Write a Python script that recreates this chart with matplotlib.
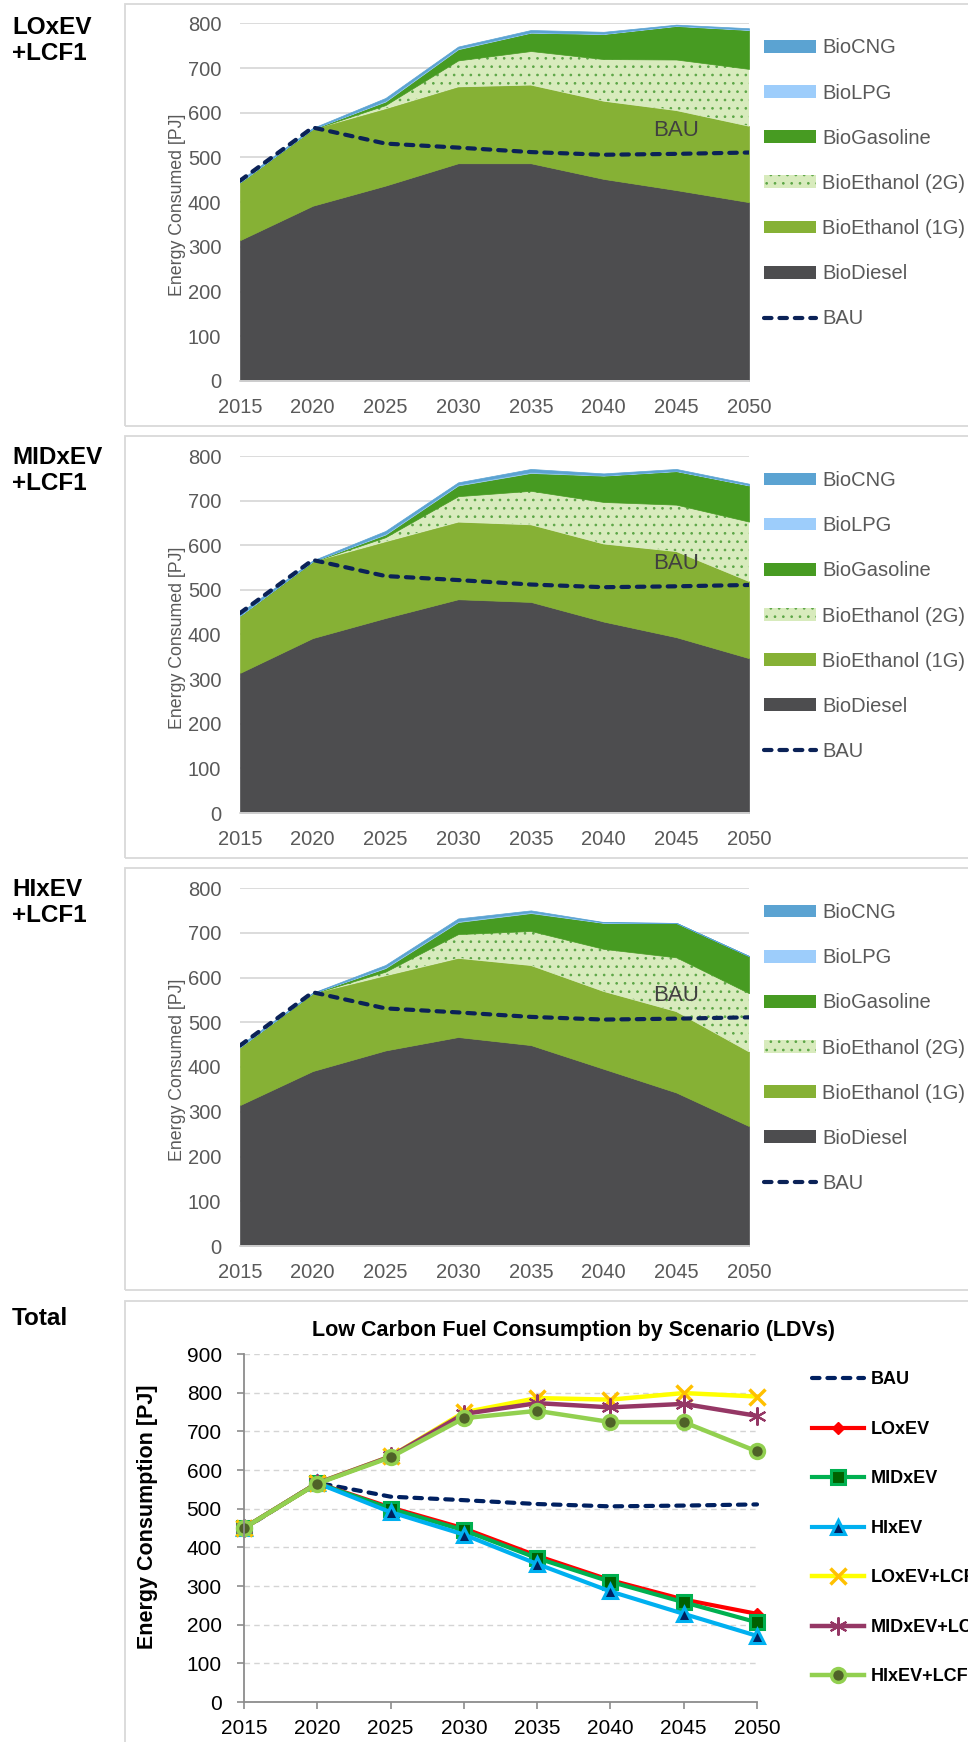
import matplotlib
matplotlib.use("Agg")
import matplotlib.pyplot as plt
from matplotlib.patches import Patch, Rectangle
from matplotlib.lines import Line2D

plt.rcParams['font.family'] = ['Liberation Sans', 'DejaVu Sans']
plt.rcParams['hatch.color'] = '#5ca646'
plt.rcParams['hatch.linewidth'] = 0.7

# ---- data (PJ) ----
years = [2015, 2020, 2025, 2030, 2035, 2040, 2045, 2050]
fuels = ["BioDiesel", "BioEthanol (1G)", "BioEthanol (2G)", "BioGasoline", "BioLPG", "BioCNG"]

lo_diesel = [315, 392, 437, 487, 487, 452, 427, 400]
lo_eth1g = [129, 171, 172, 171, 175, 174, 178, 170]
lo_eth2g = [0, 0, 8, 59, 76, 94, 114, 128]
lo_gasoline = [0, 1, 8, 25, 41, 56, 75, 87]
lo_lpg = [1, 0, 2, 2, 1, 1, 1, 1]
lo_cng = [4, 2, 6, 4, 5, 4, 2, 3]

mid_diesel = [314, 392, 437, 479, 473, 429, 394, 347]
mid_eth1g = [128, 171, 171, 173, 173, 174, 192, 172]
mid_eth2g = [0, 0, 10, 58, 76, 94, 105, 134]
mid_gasoline = [0, 1, 6, 24, 40, 59, 75, 81]
mid_lpg = [1, 0, 2, 2, 2, 1, 1, 1]
mid_cng = [6, 2, 6, 5, 7, 4, 4, 3]

hi_diesel = [315, 391, 437, 467, 449, 396, 343, 268]
hi_eth1g = [129, 173, 167, 176, 178, 173, 181, 166]
hi_eth2g = [0, 0, 9, 54, 77, 95, 121, 131]
hi_gasoline = [0, 1, 8, 27, 40, 58, 77, 83]
hi_lpg = [1, 0, 2, 2, 2, 1, 0, 0]
hi_cng = [4, 1, 5, 6, 4, 1, 0, 0]

bau = [448, 567, 531, 522, 512, 506, 508, 511]

scenario_names = ["LOxEV", "MIDxEV", "HIxEV", "LOxEV+LCF1", "MIDxEV+LCF1", "HIxEV+LCF1"]
tot_lo = [450, 566, 503, 449, 378, 315, 265, 228]
tot_mid = [450, 566, 500, 444, 372, 311, 258, 206]
tot_hi = [450, 566, 491, 433, 357, 286, 228, 171]
tot_lo_lcf = [450, 566, 635, 749, 786, 782, 799, 790]
tot_mid_lcf = [450, 566, 635, 745, 773, 762, 771, 740]
tot_hi_lcf = [450, 565, 633, 734, 753, 724, 724, 648]

panel_titles = ["LOxEV\n+LCF1", "MIDxEV\n+LCF1", "HIxEV\n+LCF1"]
panel_data = [
    [lo_diesel, lo_eth1g, lo_eth2g, lo_gasoline, lo_lpg, lo_cng],
    [mid_diesel, mid_eth1g, mid_eth2g, mid_gasoline, mid_lpg, mid_cng],
    [hi_diesel, hi_eth1g, hi_eth2g, hi_gasoline, hi_lpg, hi_cng],
]

fuel_colors = ['#4d4d4f', '#86b135', '#d8ebbd', '#479b22', '#9dcdfb', '#5ba3d2']
bau_color = '#0b2257'
grey_txt = '#595959'

W, H = 968, 1742
fig = plt.figure(figsize=(W / 100, H / 100), dpi=100)


def fx(px):
    return px / W


def fy(py):
    return 1 - py / H


def frame(top, bottom):
    fig.add_artist(Rectangle((fx(125), fy(bottom)), 1.0, (bottom - top) / H,
                             transform=fig.transFigure, fill=False,
                             edgecolor='#d9d9d9', linewidth=1.3))


# (frame top, frame bottom, axes top, axes bottom, label top)
panel_px = [(4, 426, 23.3, 381, 16), (436, 858, 456, 813, 446), (868, 1290, 888, 1246, 878)]

for (ftop, fbot, atop, abot, ltop), title, data in zip(panel_px, panel_titles, panel_data):
    frame(ftop, fbot)
    ax = fig.add_axes([fx(240), fy(abot), fx(749) - fx(240), (abot - atop) / H])
    polys = ax.stackplot(years, *data, colors=fuel_colors, linewidth=0)
    for p in polys:
        p.set_edgecolor('face')
        p.set_linewidth(0.5)
    polys[2].set_hatch('..')
    ax.plot(years, bau, color=bau_color, lw=3, ls=(0, (1.8, 1.9)),
            dash_capstyle='round', zorder=5)
    ax.text(2045, 560, "BAU", ha='center', va='center', fontsize=16, color='#404040', zorder=6)

    ax.set_xlim(2015, 2050)
    ax.set_ylim(0, 800)
    ax.set_xticks(years)
    ax.set_yticks(range(0, 801, 100))
    ax.grid(axis='y', color='#d9d9d9', lw=1.3)
    ax.set_axisbelow(True)
    for s in ['left', 'right', 'top']:
        ax.spines[s].set_visible(False)
    ax.spines['bottom'].set_color('#d9d9d9')
    ax.spines['bottom'].set_linewidth(1.3)
    ax.tick_params(axis='y', length=0, labelsize=14.5, labelcolor=grey_txt, pad=13.5)
    ax.tick_params(axis='x', length=0, labelsize=14.5, labelcolor=grey_txt, pad=12)

    fig.text(fx(177), fy((atop + abot) / 2 + 3), "Energy Consumed [PJ]", rotation=90,
             ha='center', va='center', fontsize=12.8, color=grey_txt)
    fig.text(fx(12), fy(ltop), title, ha='left', va='top', fontsize=17.5,
             fontweight='bold', linespacing=1.15)

    handles = [Patch(facecolor=fuel_colors[i], hatch='..' if i == 2 else None, linewidth=0)
               for i in range(5, -1, -1)]
    handles.append(Line2D([], [], color=bau_color, lw=3, ls=(0, (1.8, 1.9)), dash_capstyle='round'))
    labels = fuels[::-1] + ["BAU"]
    ax.legend(handles, labels, loc='upper left', bbox_to_anchor=(1.029, 0.958),
              frameon=False, fontsize=14.5, labelcolor=grey_txt, borderpad=0,
              borderaxespad=0, handlelength=2.6, handleheight=0.6,
              handletextpad=0.3, labelspacing=1.3)

# ---- total panel ----
frame(1301, 1800)
fig.text(fx(12), fy(1307), "Total", ha='left', va='top', fontsize=17.5, fontweight='bold')

ax4 = fig.add_axes([fx(244), fy(1702), fx(757) - fx(244), (1702 - 1354) / H])
series = [
    ("BAU", bau, dict(color='#002060', lw=3, ls=(0, (1.8, 1.9)), dash_capstyle='round')),
    (scenario_names[0], tot_lo, dict(color='#ff0000', lw=3, marker='D', ms=6,
                                     mfc='#ff0000', mec='#ff0000')),
    (scenario_names[1], tot_mid, dict(color='#00b050', lw=3, marker='s', ms=10,
                                      mfc='#006100', mec='#00b050', mew=2.2)),
    (scenario_names[2], tot_hi, dict(color='#00b0f0', lw=3, marker='^', ms=10,
                                     mfc='#002060', mec='#00b0f0', mew=2.2)),
    (scenario_names[3], tot_lo_lcf, dict(color='#ffff00', lw=3.2, marker='x', ms=11,
                                         mec='#ffc000', mew=2.5)),
    (scenario_names[4], tot_mid_lcf, dict(color='#953765', lw=3.2, marker=(6, 2, 0), ms=13,
                                          mec='#953765', mew=1.5)),
    (scenario_names[5], tot_hi_lcf, dict(color='#92d050', lw=3.2, marker='o', ms=10,
                                         mfc='#4f6228', mec='#92d050', mew=2.5)),
]
for name, vals, kw in series:
    ax4.plot(years, vals, label=name, clip_on=False, **kw)

ax4.set_xlim(2015, 2050)
ax4.set_ylim(0, 900)
ax4.set_xticks(years)
ax4.set_yticks(range(0, 901, 100))
ax4.grid(axis='y', color='#d4d4d4', lw=1, ls=(0, (4, 3)))
ax4.set_axisbelow(True)
for s in ['right', 'top']:
    ax4.spines[s].set_visible(False)
for s in ['left', 'bottom']:
    ax4.spines[s].set_color('#8c8c8c')
    ax4.spines[s].set_linewidth(1.3)
ax4.tick_params(direction='out', length=5, width=1.2, color='#8c8c8c',
                labelsize=15, labelcolor='black')
ax4.tick_params(axis='y', pad=11)
ax4.tick_params(axis='x', pad=7)

fig.text(fx(574), fy(1330), "Low Carbon Fuel Consumption by Scenario (LDVs)",
         ha='center', va='center', fontsize=15.5, fontweight='bold')
fig.text(fx(147), fy(1517), "Energy Consumption [PJ]", rotation=90,
         ha='center', va='center', fontsize=15.5, fontweight='bold')

ax4.legend(loc='upper left', bbox_to_anchor=(1.107, 0.95), frameon=False,
           prop={'weight': 'bold', 'size': 13}, borderpad=0, borderaxespad=0,
           handlelength=2.9, handletextpad=0.35, labelspacing=1.8, numpoints=1)

fig.savefig("out.png", dpi=100)
